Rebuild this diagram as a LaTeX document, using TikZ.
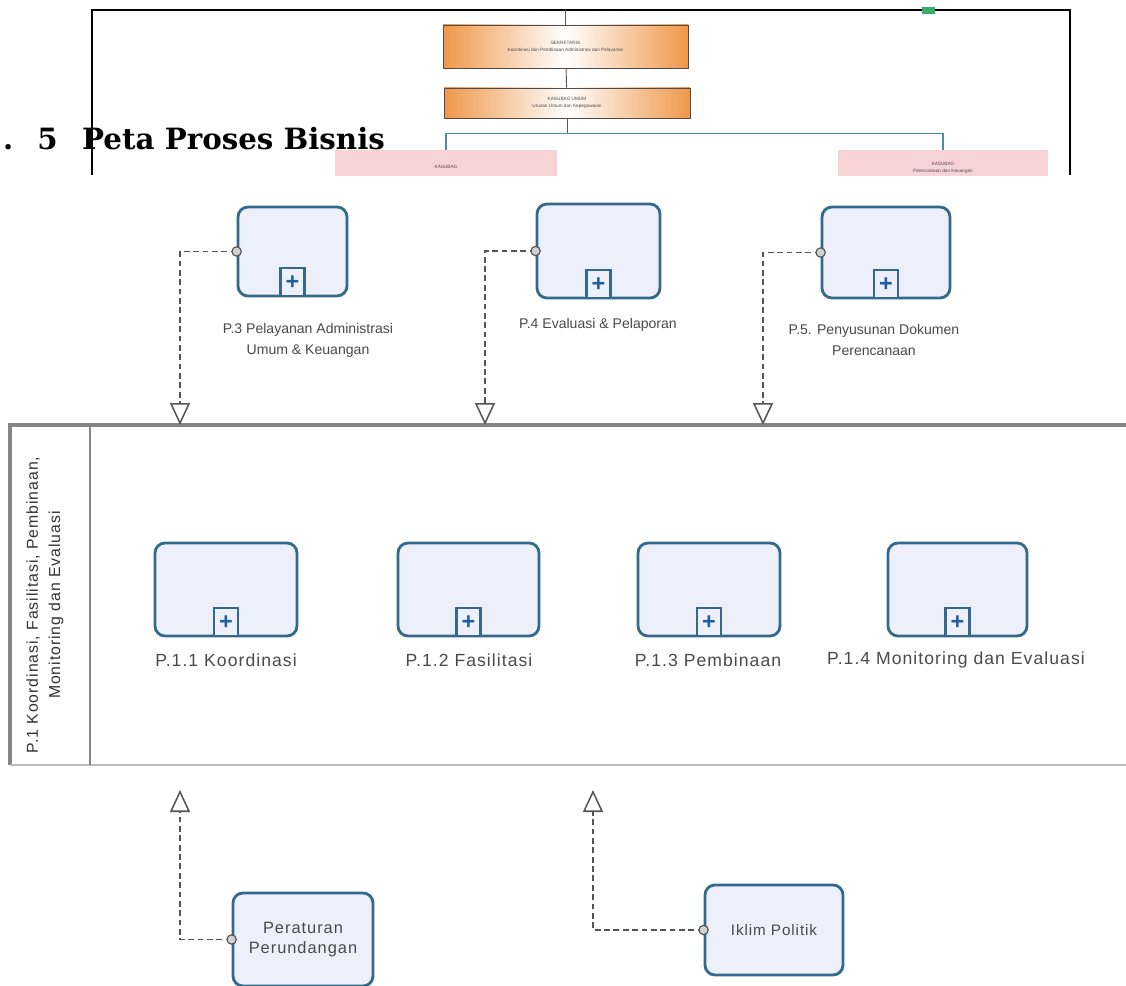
\documentclass[tikz,border=0pt]{standalone}
\usepackage{fontspec}
\setsansfont{Liberation Sans}
\newfontfamily\headfont{DejaVu Serif}
\newfontfamily\lblfont[LetterSpace=6]{Liberation Sans}
\usetikzlibrary{positioning,arrows.meta}
\definecolor{taskfill}{HTML}{EDEFFB}
\definecolor{taskline}{HTML}{336A8C}
\definecolor{plusblue}{HTML}{1F5FA0}
\definecolor{poolgray}{HTML}{858585}
\definecolor{msggray}{HTML}{555555}
\definecolor{lblgray}{HTML}{4A4A4A}
\definecolor{orgorange}{HTML}{F0974A}
\definecolor{orgpink}{HTML}{F8D3D6}
\definecolor{orgteal}{HTML}{4D8D9C}

\begin{document}
\begin{tikzpicture}[x=0.03cm,y=-0.03cm,
	task/.style={draw=taskline, line width=2.4pt, fill=taskfill, rounded corners=0.3cm,
		minimum height=2.8cm, inner sep=0pt, align=center,
		font=\lblfont\fontsize{14}{17}\selectfont, text=lblgray},
	plusbox/.style={draw=taskline, line width=1.8pt, fill=taskfill, minimum width=0.72cm,
		minimum height=0.84cm, inner sep=0pt, anchor=south,
		font=\sffamily\bfseries\fontsize{20}{20}\selectfont, text=plusblue},
	lbl/.style={align=center, text=lblgray, inner sep=0pt, font=\sffamily\fontsize{12}{18}\selectfont},
	biglbl/.style={lbl, font=\lblfont\fontsize{15}{19}\selectfont},
	msg/.style={draw=msggray, line width=1.3pt, dash pattern=on 5pt off 3pt},
	msgtip/.style={-{Triangle[open, width=0.6cm, length=0.66cm, line width=1.3pt]}},
	startdot/.style={circle, draw=msggray, line width=1pt, fill=gray!35, minimum size=0.28cm, inner sep=0pt},
	orgbox/.style={draw=gray!60!black, line width=0.8pt, left color=orgorange, right color=orgorange,
		middle color=white, align=center, inner sep=0pt, text=gray!60!black,
		font=\sffamily\fontsize{4}{6}\selectfont},
	pinkbox/.style={fill=orgpink, anchor=north, align=center, inner sep=0pt, text=gray!60!black,
		font=\sffamily\fontsize{4}{6}\selectfont, text depth=0.5cm},
	orgline/.style={draw=gray!70!black, line width=0.8pt}
]
	\clip (0,0) rectangle (1126,986);
	\fill[white] (0,0) rectangle (1126,986);

	% page with the organisation chart
	\begin{scope}
		\clip (0,0) rectangle (1126,175);
		\draw[black, line width=1.6pt] (92,175) -- (92,10) -- (1070,10) -- (1070,175);
		\fill[orgteal!70!green] (922,7) rectangle (935,14);
		\coordinate (pagetop) at (565.5,10);
		\node[orgbox, minimum width=7.35cm, minimum height=1.29cm] (sek) at (565.5,46.5)
			{SEKRETARIS\\Koordinasi dan Pembinaan Administrasi dan Pelayanan};
		\node[orgbox, minimum width=7.38cm, minimum height=0.9cm] (sub) at (567,103)
			{KASUBAG UMUM\\Urusan Umum dan Kepegawaian};
		\node[pinkbox, minimum width=6.66cm, minimum height=1.5cm] (pk1) at (446,150) {KASUBAG};
		\node[pinkbox, minimum width=6.3cm, minimum height=1.5cm] (pk2) at (943,150)
			{KASUBAG\\Perencanaan dan Keuangan};
		\draw[orgline] (pagetop) -- (sek);
		\draw[orgline] (sek) -- (sub);
		\draw[orgline] (sub.south) -- ++(0,15) coordinate (fork);
		\draw[orgteal, line width=1.2pt] (fork) -| (pk1.north);
		\draw[orgteal, line width=1.2pt] (fork) -| (pk2.north);
	\end{scope}
	\node[anchor=base west, inner sep=0pt, font=\headfont\bfseries\fontsize{25}{28}\selectfont] (secno) at (3,150) {.\hspace{0.72cm}5};
	\node[anchor=base west, inner sep=0pt, font=\headfont\bfseries\fontsize{25}{28}\selectfont] (title) at (82,150) {Peta Proses Bisnis};

	% pool
	\draw[poolgray, line width=2.8pt] (1126,425) -- (10,425) -- (10,765);
	\draw[poolgray!55, line width=1.5pt] (10,765) -- (1126,765);
	\draw[poolgray, line width=2.5pt] (90,425) -- (90,765);
	\node[biglbl, rotate=90, font=\lblfont\fontsize{13.5}{19}\selectfont, text=black!80] (pool) at (45,605) {P.1 Koordinasi, Fasilitasi, Pembinaan,\\Monitoring dan Evaluasi};

	% processes above the pool
	\node[task, minimum width=3.27cm, minimum height=2.67cm] (p3) at (292.5,251.5) {};
	\node[task, minimum width=3.69cm, minimum height=2.82cm] (p4) at (598.5,251) {};
	\node[task, minimum width=3.84cm, minimum height=2.73cm] (p5) at (886,252.5) {};
	\node[lbl] (p3lbl) at (308,340) {P.3 Pelayanan Administrasi\\Umum \& Keuangan};
	\node[lbl] (p4lbl) at (598,325) {P.4 Evaluasi \& Pelaporan};
	\node[lbl] (p5lbl) at (874,340) {P.5. Penyusunan Dokumen\\Perencanaan};

	% subprocesses in the pool
	\node[task, minimum width=4.26cm, minimum height=2.79cm] (p11) at (226,589.5) {};
	\node[task, minimum width=4.23cm, minimum height=2.79cm] (p12) at (468.5,589.5) {};
	\node[task, minimum width=4.26cm, minimum height=2.79cm] (p13) at (709,589.5) {};
	\node[task, minimum width=4.17cm, minimum height=2.79cm] (p14) at (957.5,589.5) {};
	\node[biglbl] (p11lbl) at (226,660) {P.1.1 Koordinasi};
	\node[biglbl] (p12lbl) at (469,660) {P.1.2 Fasilitasi};
	\node[biglbl] (p13lbl) at (708,660) {P.1.3 Pembinaan};
	\node[biglbl] (p14lbl) at (956,660) {P.1.4 Monitoring dan Evaluasi};

	\foreach \p in {p3,p4,p5,p11,p12,p13,p14}
		\node[plusbox] (\p plus) at (\p.south) {+};

	% inputs below the pool
	\node[task, minimum width=4.2cm, minimum height=2.79cm] (hukum) at (303,939.5) {Peraturan\\Perundangan};
	\node[task, minimum width=4.14cm, minimum height=2.7cm, font=\lblfont\fontsize{13}{17}\selectfont] (politik) at (774,930) {Iklim Politik};

	% message flows
	\coordinate (in3) at (180,425);
	\coordinate (in4) at (485,425);
	\coordinate (in5) at (763,425);
	\coordinate (out1) at (180,790);
	\coordinate (out2) at (593,790);
	\draw[msg, msgtip] (p3.west) -| (in3);
	\draw[msg, msgtip] (p4.west) -| (in4);
	\draw[msg, msgtip] (p5.west) -| (in5);
	\draw[msg, msgtip] (hukum.west) -| (out1);
	\draw[msg, msgtip] (politik.west) -| (out2);
	\foreach \p in {p3,p4,p5,hukum,politik}
		\node[startdot] at (\p.west) {};
\end{tikzpicture}
\end{document}
